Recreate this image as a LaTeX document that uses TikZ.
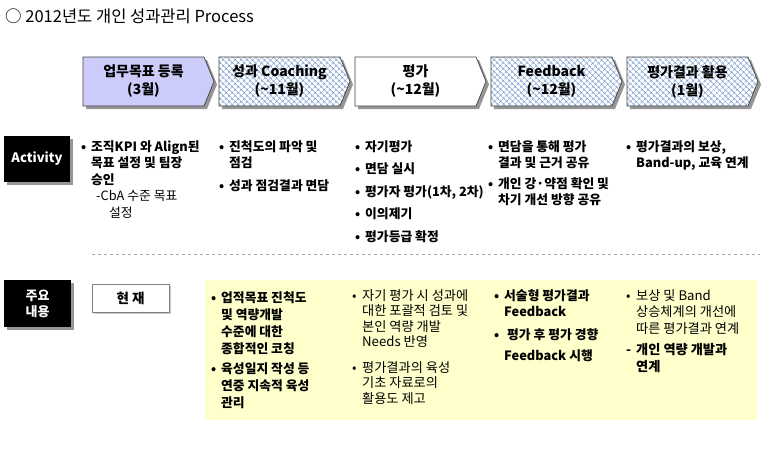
\documentclass[tikz,border=0pt]{standalone}
\usepackage{fontspec}
\setmainfont{Noto Sans CJK KR}
\usepackage{tikz}
\usetikzlibrary{patterns.meta,positioning}
\definecolor{chevlav}{RGB}{204,204,250}
\definecolor{hatchblue}{RGB}{130,160,210}
\definecolor{notepad}{RGB}{255,255,204}
\definecolor{shadegray}{RGB}{150,150,150}
\newcommand{\bul}{\makebox[10pt][l]{•}}
\newcommand{\ind}{\hspace*{10pt}}

\begin{document}
\begin{tikzpicture}[x=1pt,y=-1pt,
  lavfill/.style={fill=chevlav},
  hatchfill/.style={preaction={fill=white},pattern={Hatch[angle=45,distance=4pt,line width=0.5pt]},pattern color=hatchblue},
  plainfill/.style={fill=white},
  chevtext/.style={font=\fontsize{14}{18}\selectfont\bfseries,align=center},
  col/.style={anchor=north west,inner sep=0pt,align=left,font=\fontsize{13.2}{16.5}\selectfont},
  colb/.style={col,font=\fontsize{12.8}{16.5}\selectfont\bfseries},
  tag/.style={fill=black,text=white,inner sep=0pt,font=\fontsize{13}{16}\selectfont\bfseries,align=center}]
\useasboundingbox (0,0) rectangle (766,450);

% title
\node[anchor=west,inner sep=0pt,font=\fontsize{16.5}{18}\selectfont] (title) at (5,16) {○ 2012년도 개인 성과관리 Process};

% --- process chevrons ---
\foreach \i/\sty/\la/\lb in {0/lavfill/업무목표 등록/(3월), 1/hatchfill/성과 Coaching/(\textasciitilde11월),
    2/plainfill/평가/(\textasciitilde12월), 3/hatchfill/Feedback/(\textasciitilde12월), 4/hatchfill/평가결과 활용/(1월)} {
  \pgfmathsetmacro{\xl}{83+136*\i}
  \fill[shadegray] (\xl+3,60) -- (\xl+124,60) -- (\xl+134,84.5) -- (\xl+124,109) -- (\xl+3,109) -- cycle;
  \draw[\sty,draw=black!75,line width=0.7pt] (\xl,57) -- (\xl+121,57) -- (\xl+131,81.5) -- (\xl+121,106) -- (\xl,106) -- cycle;
  \node[chevtext] (stage\i) at (\xl+60.5,81.5) {\la\\\lb};
}

% --- row labels ---
\fill[shadegray] (7,139) rectangle (73,185);
\node[tag,minimum width=66pt,minimum height=46pt] (activity) at (37,159) {Activity};
\fill[shadegray] (7,283) rectangle (74,330);
\node[tag,minimum width=67pt,minimum height=47pt] (mainpts) at (37.5,303.5) {주요\\내용};
\fill[gray!40] (94,286) rectangle (171,314);
\node[draw=gray,fill=white,minimum width=77pt,minimum height=28pt,inner sep=0pt,
  font=\fontsize{13.5}{16}\selectfont\bfseries] (now) at (130.5,298) {현 재};

% separator
\coordinate (sepL) at (92,254);
\coordinate (sepR) at (760,254);
\draw[gray!70,dashed] (sepL) -- (sepR);

% --- activity row ---
\node[colb] (act1) at (81,140) {\bul 조직KPI 와 Align된\\ \ind 목표 설정 및 팀장\\ \ind 승인\\
  {\mdseries\hspace*{15pt}-CbA 수준 목표}\\ {\mdseries\hspace*{28pt}설정}};
\node[colb] (act2) at (219,140) {\bul 진척도의 파악 및\\ \ind 점검\\[6pt] \bul 성과 점검결과 면담};
\node[colb] (act3) at (355,140) {\bul 자기평가\\[6pt] \bul 면담 실시\\[6pt] \bul 평가자 평가(1차, 2차)\\[6pt]
  \bul 이의제기\\[6pt] \bul 평가등급 확정};
\node[colb] (act4) at (488,140) {\bul 면담을 통해 평가\\ \ind 결과 및 근거 공유\\[4pt]
  \bul 개인 강·약점 확인 및\\ \ind 차기 개선 방향 공유};
\node[colb] (act5) at (626,140) {\bul 평가결과의 보상,\\ \ind Band-up, 교육 연계};

% --- main points (yellow) ---
\node[fill=notepad,minimum width=552pt,minimum height=140pt,inner sep=0pt] (notes) at (481,350) {};
\node[colb,font=\fontsize{12.8}{17}\selectfont\bfseries] (pt1) at (211,291) {\bul 업적목표 진척도\\ \ind 및 역량개발\\ \ind 수준에 대한\\
  \ind 종합적인 코칭\\[3pt] \bul 육성일지 작성 등\\ \ind 연중 지속적 육성\\ \ind 관리};
\node[col,font=\fontsize{13.2}{15.5}\selectfont] (pt2) at (352,289) {\bul 자기 평가 시 성과에\\ \ind 대한 포괄적 검토 및\\
  \ind 본인 역량 개발\\ \ind Needs 반영\\[10pt] \bul 평가결과의 육성\\ \ind 기초 자료로의\\ \ind 활용도 제고};
\node[colb] (pt3) at (494,289) {\bul 서술형 평가결과\\ \ind Feedback\\[6pt] \bul\hspace*{3pt}평가 후 평가 경향\\[5pt]
  \ind Feedback 시행};
\node[col] (pt4) at (626,289) {\bul 보상 및 Band\\ \ind 상승체계의 개선에\\ \ind 따른 평가결과 연계\\[5pt]
  {\bfseries\makebox[10pt][l]{-}개인 역량 개발과}\\ {\bfseries\ind 연계}};
\end{tikzpicture}
\end{document}
